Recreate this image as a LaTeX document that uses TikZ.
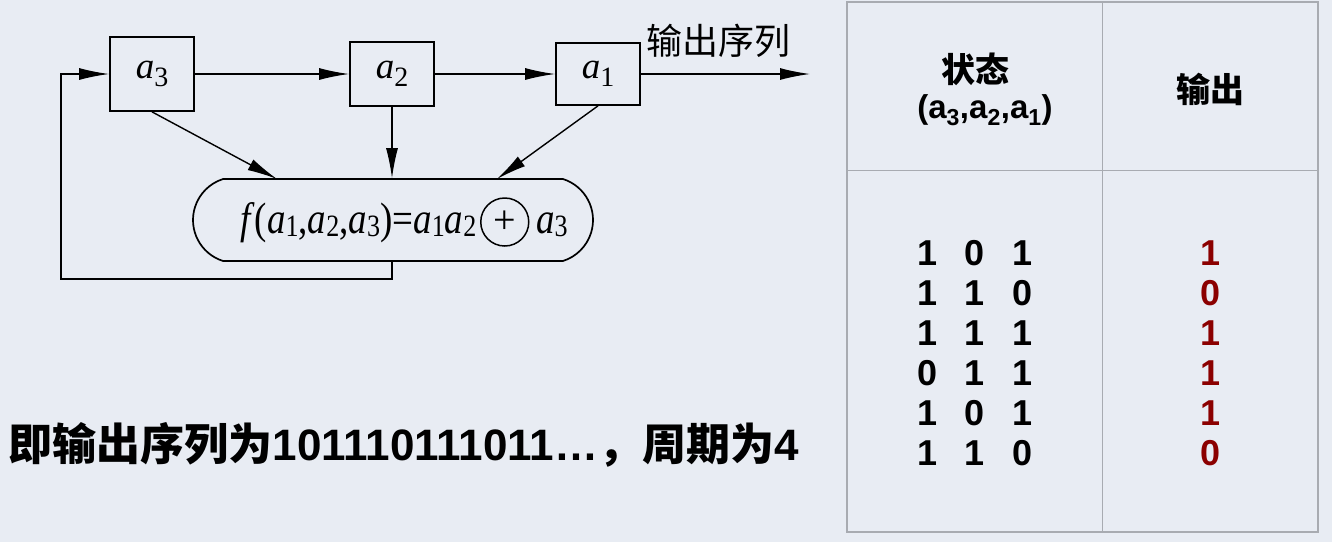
\documentclass[tikz,border=0pt]{standalone}
\usepackage{fontspec}
\usepackage{graphicx}
\setmainfont{Liberation Serif}
\setsansfont{Liberation Sans}
\newfontfamily\cjk{Noto Sans CJK SC}
\usetikzlibrary{shapes.misc, positioning, arrows.meta}
\definecolor{bgcol}{RGB}{232,236,243}
\definecolor{rulecol}{RGB}{168,171,177}
\definecolor{outred}{RGB}{139,0,0}
\newcommand{\fsz}[1]{\fontsize{#1}{#1}\selectfont}
\newcommand{\ai}[1]{\textit{a}\raisebox{-8pt}{\fsz{28}#1}}
\newcommand{\fa}[1]{\textit{a}\raisebox{-3pt}{\fsz{31}#1}}
\newcommand{\sa}[1]{a\textsubscript{#1}}

\begin{document}
\begin{tikzpicture}[x=1pt, y=-1pt,
            style = {line width=1.4pt},
            >={Latex[length=30pt,width=12pt]},
            reg/.style = {draw, line width=1.7pt, minimum width=84pt, inner sep=0pt, font=\fsz{37}},
            oval/.style = {draw, line width=1.7pt, rounded rectangle, rounded rectangle arc length=145,
                           minimum width=400pt, minimum height=82pt, inner sep=0pt},
            ftext/.style = {inner sep=0pt, font=\fsz{44}},
            xorc/.style = {draw, circle, line width=1.5pt, minimum size=48pt, inner sep=0pt, font=\fsz{40}},
            hcell/.style = {font=\cjk\bfseries\fsz{34}},
            row/.style = {font=\sffamily\bfseries\fsz{36}, minimum height=40pt, inner sep=0pt, outer sep=0pt},
            grid/.style = {draw=rulecol, line width=1pt}]
            \fill[bgcol] (0,0) rectangle (1332,542);
            \useasboundingbox (0,0) rectangle (1332,542);
            % shift register
            \node (a3) [reg, minimum height=74pt] at (152,74) {\ai{3}};
            \node (a2) [reg, minimum height=64pt] at (392,74) {\ai{2}};
            \node (a1) [reg, minimum height=62pt] at (598,74) {\ai{1}};
            \node (fbox) [oval] at (393,220) {};
            \node (flhs) [ftext, anchor=base east] at (477,233)
                {\scalebox{0.84}[1]{\textit{f}(\fa{1},\fa{2},\fa{3})=\fa{1}\fa{2}}};
            \node (xr) [xorc, anchor=west] at ([shift={(3,-11)}]flhs.base east) {+};
            \node (fa3) [ftext, anchor=base west] at ([xshift=6pt]xr.east |- flhs.base) {\scalebox{0.84}[1]{\fa{3}}};
            \coordinate (f3in) at (277,179);
            \coordinate (f1in) at (497,179);
            \coordinate (fbk) at (61,279);
            \coordinate (outend) at (810,74);
            \draw[->] (a3) -- (a2);
            \draw[->] (a2) -- (a1);
            \draw[->] (a1) -- (outend);
            \node (outlbl) [anchor=base west, font=\cjk\fsz{36}, inner sep=0pt] at (646,54) {输出序列};
            \draw[->] (a3.south) -- (f3in);
            \draw[->] (a2.south) -- (a2.south |- fbox.north);
            \draw[->] (a1.south) -- (f1in);
            \draw[->] (fbox.south -| a2.south) |- (fbk) |- (a3.west);
            % result text
            \node (res) [anchor=base west, inner sep=0pt, font=\sffamily\bfseries\fsz{44}] at (8,460)
                {{\cjk 即输出序列为}101110111011…{\cjk ，周期为}4};
            % state table
            \draw[grid] (1102,2) -- (1102,532);
            \draw[grid] (847,170) -- (1318,170);
            \draw[draw=rulecol, line width=2pt] (847,2) rectangle (1318,532);
            \node (st) [hcell] at (975,69) {状态};
            \node (stv) [font=\sffamily\bfseries\fsz{33}, inner sep=0pt] at (985,110) {(\sa{3},\sa{2},\sa{1})};
            \node (out) [hcell] at (1210,89) {输出};
            \node (s1) [row] at (975,253) {1\hspace{27pt}0\hspace{27pt}1};
            \node (s2) [row, below=0pt of s1] {1\hspace{27pt}1\hspace{27pt}0};
            \node (s3) [row, below=0pt of s2] {1\hspace{27pt}1\hspace{27pt}1};
            \node (s4) [row, below=0pt of s3] {0\hspace{27pt}1\hspace{27pt}1};
            \node (s5) [row, below=0pt of s4] {1\hspace{27pt}0\hspace{27pt}1};
            \node (s6) [row, below=0pt of s5] {1\hspace{27pt}1\hspace{27pt}0};
            \node (o1) [row, text=outred] at (s1 -| out) {1};
            \node (o2) [row, text=outred] at (s2 -| out) {0};
            \node (o3) [row, text=outred] at (s3 -| out) {1};
            \node (o4) [row, text=outred] at (s4 -| out) {1};
            \node (o5) [row, text=outred] at (s5 -| out) {1};
            \node (o6) [row, text=outred] at (s6 -| out) {0};
\end{tikzpicture}
\end{document}
